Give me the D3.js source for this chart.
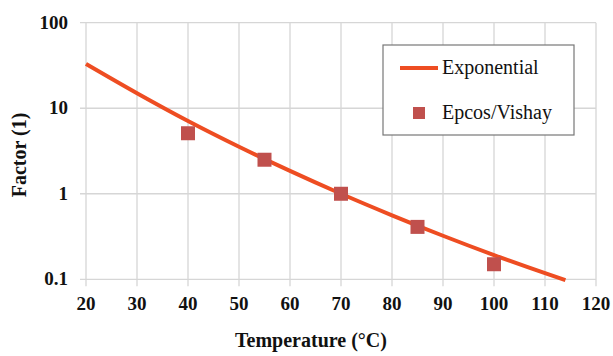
<!DOCTYPE html>
<html>
<head>
<meta charset="utf-8">
<script src="https://cdn.jsdelivr.net/npm/d3@7"></script>
<style>
html,body{margin:0;padding:0;background:#fff;}
svg{display:block;}
</style>
</head>
<body>
<svg id="chart" width="613" height="356"></svg>
<script>
// Data
const curveTemps   = [20, 30, 40, 50, 60, 70, 80, 90, 100, 110, 114];
const curveFactors = [33, 15, 7.1, 3.55, 1.85, 1, 0.56, 0.323, 0.192, 0.118, 0.098];
const pointTemps   = [40, 55, 70, 85, 100];
const pointFactors = [5.1, 2.5, 1, 0.41, 0.15];
const xTicks = [20, 30, 40, 50, 60, 70, 80, 90, 100, 110, 120];
const yTicks = [0.1, 1, 10, 100];
const yTickLabels = ["0.1", "1", "10", "100"];
const seriesNames = ["Exponential", "Epcos/Vishay"];

const lineColor = "#ee4d22";
const markColor = "#c0504d";
const FONT = "Liberation Serif";

const svg = d3.select("#chart");
const m = {left: 86, right: 17, top: 22.7, bottom: 76.7};
const W = 613, H = 356;
const x = d3.scaleLinear().domain([20, 120]).range([m.left, W - m.right]);
const y = d3.scaleLog().domain([0.1, 100]).range([H - m.bottom, m.top]);

// gridlines
const g = svg.append("g");
g.selectAll("line.vx").data(xTicks).enter().append("line")
  .attr("x1", d => x(d)).attr("x2", d => x(d))
  .attr("y1", y(100)).attr("y2", y(0.1) + 7)
  .attr("stroke", "#d6d6d6").attr("stroke-width", 1.3);
g.selectAll("line.hy").data(yTicks).enter().append("line")
  .attr("x1", x(20) - 6).attr("x2", x(120))
  .attr("y1", d => y(d)).attr("y2", d => y(d))
  .attr("stroke", "#d6d6d6").attr("stroke-width", 1.3);

// tick labels
svg.selectAll("text.xt").data(xTicks).enter().append("text")
  .attr("font-family", FONT)
  .attr("x", d => x(d)).attr("y", 310)
  .attr("text-anchor", "middle")
  .attr("font-size", 19).attr("font-weight", "bold").attr("fill", "#111")
  .text(d => d);
svg.selectAll("text.yt").data(yTicks).enter().append("text")
  .attr("font-family", FONT)
  .attr("x", 68).attr("y", d => y(d) + 6)
  .attr("text-anchor", "end")
  .attr("font-size", 19).attr("font-weight", "bold").attr("fill", "#111")
  .text((d, i) => yTickLabels[i]);

// axis titles
svg.append("text").attr("font-family", FONT).attr("x", 311).attr("y", 347)
  .attr("text-anchor", "middle").attr("font-size", 20).attr("font-weight", "bold").attr("fill", "#111")
  .text("Temperature (°C)");
svg.append("text").attr("font-family", FONT).attr("transform", "translate(26,155) rotate(-90)")
  .attr("text-anchor", "middle").attr("font-size", 20).attr("font-weight", "bold").attr("fill", "#111")
  .text("Factor (1)");

// curve
const curve = curveTemps.map((t, i) => [t, curveFactors[i]]);
svg.append("path").datum(curve)
  .attr("d", d3.line().x(d => x(d[0])).y(d => y(d[1])).curve(d3.curveMonotoneX))
  .attr("fill", "none").attr("stroke", lineColor).attr("stroke-width", 4);

// points
const pts = pointTemps.map((t, i) => [t, pointFactors[i]]);
const s = 14;
svg.selectAll("rect.pt").data(pts).enter().append("rect")
  .attr("x", d => x(d[0]) - s / 2).attr("y", d => y(d[1]) - s / 2)
  .attr("width", s).attr("height", s).attr("fill", markColor);

// legend
const lg = svg.append("g");
lg.append("rect").attr("x", 383).attr("y", 45).attr("width", 191).attr("height", 90)
  .attr("fill", "#fff").attr("stroke", "#777").attr("stroke-width", 1.2);
lg.append("line").attr("x1", 400).attr("x2", 438).attr("y1", 68).attr("y2", 68)
  .attr("stroke", lineColor).attr("stroke-width", 4);
lg.append("text").attr("font-family", FONT).attr("x", 442).attr("y", 74).attr("font-size", 20).attr("fill", "#111").text(seriesNames[0]);
lg.append("rect").attr("x", 413).attr("y", 107).attr("width", 12).attr("height", 12).attr("fill", markColor);
lg.append("text").attr("font-family", FONT).attr("x", 442).attr("y", 119).attr("font-size", 20).attr("fill", "#111").text(seriesNames[1]);
</script>
</body>
</html>
